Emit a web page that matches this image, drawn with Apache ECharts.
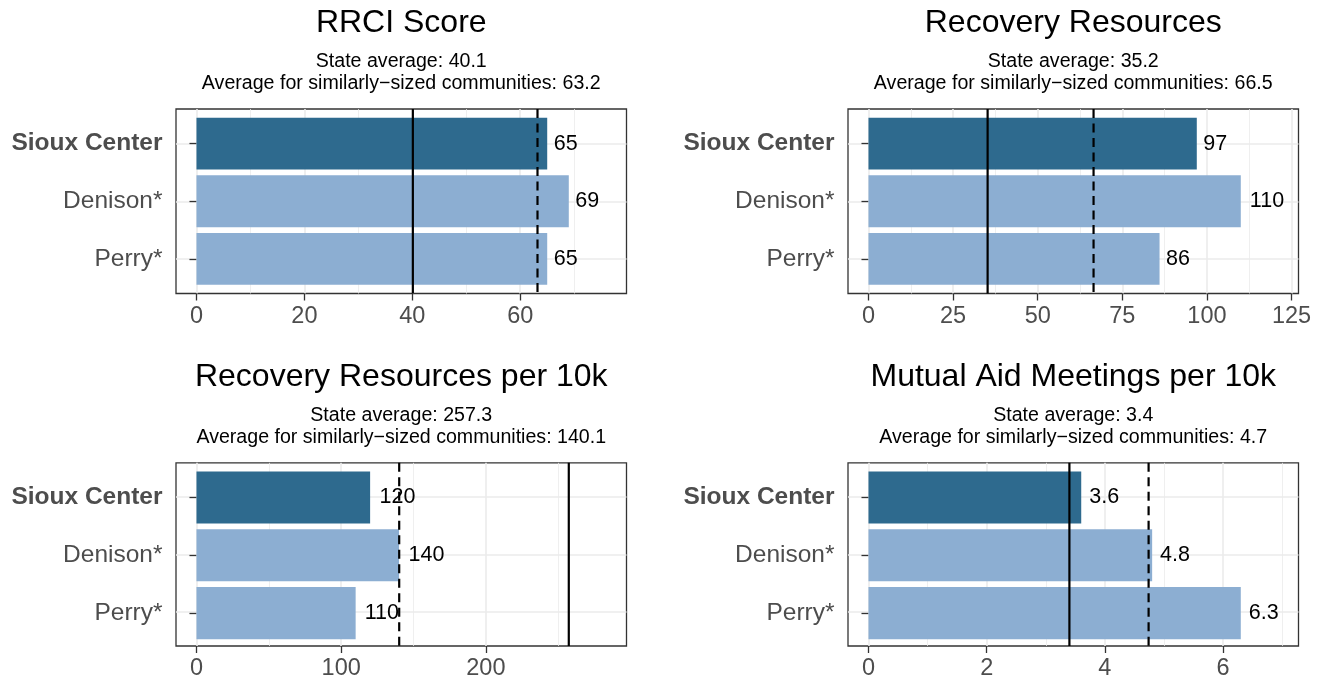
<!DOCTYPE html>
<html>
<head>
<meta charset="utf-8">
<script src="https://cdn.jsdelivr.net/npm/echarts@6/dist/echarts.min.js"></script>
<style>
html,body{margin:0;padding:0;background:#ffffff;}
#chart{width:1322px;height:681px;}
</style>
</head>
<body>
<div id="chart"></div>
<script>
// ---------------- data ----------------
const categories = ['Sioux Center', 'Denison*', 'Perry*'];
const panelTitles = ['RRCI Score', 'Recovery Resources', 'Recovery Resources per 10k', 'Mutual Aid Meetings per 10k'];
const rrciScore = [65, 69, 65];
const recoveryResources = [97, 110, 86];
const recoveryResourcesPer10k = [120, 140, 110];
const mutualAidMeetingsPer10k = [3.6, 4.8, 6.3];
const stateAverage = [40.1, 35.2, 257.3, 3.4];
const similarSizeAverage = [63.2, 66.5, 140.1, 4.74];
const xTicksRrci = [0, 20, 40, 60];
const xTicksResources = [0, 25, 50, 75, 100, 125];
const xTicksPer10k = [0, 100, 200];
const xTicksMeetings = [0, 2, 4, 6];

const panelValues = [rrciScore, recoveryResources, recoveryResourcesPer10k, mutualAidMeetingsPer10k];
const panelTicks = [xTicksRrci, xTicksResources, xTicksPer10k, xTicksMeetings];

// ---------------- style / layout ----------------
const FONT = '"Liberation Sans", Arial, Helvetica, sans-serif';
const DARK = '#2e6a8e';
const LIGHT = '#8caed2';
const GRID_COLOR = '#ebebeb';
const FRAME = '#333333';
const TEXT_GREY = '#4d4d4d';
const panels = [
  { left: 176, top: 109, width: 450.5, height: 184.5 },
  { left: 848, top: 109, width: 450.5, height: 184.5 },
  { left: 176, top: 462.8, width: 450.5, height: 185 },
  { left: 848, top: 462.8, width: 450.5, height: 185 }
];

const measureCtx = document.createElement('canvas').getContext('2d');
measureCtx.font = '21.5px "Liberation Sans", Arial, sans-serif';
function labelDistance(v) {
  const w = measureCtx.measureText(String(v)).width;
  return 0.25 * w + 0.5;
}

const grid = [], xAxis = [], yAxis = [], series = [], graphic = [];
const n = categories.length;

panelValues.forEach((vals, p) => {
  const P = panels[p];
  const ticks = panelTicks[p];
  const M = 1.1 * Math.max(...vals, stateAverage[p], similarSizeAverage[p]);
  const xmin = -0.05 * M, xmax = 1.05 * M;
  const step = ticks[1] - ticks[0];
  const minors = [];
  for (let v = Math.ceil((xmin - step / 2) / step) * step + step / 2; v < xmax; v += step) {
    if (v > xmin) minors.push(v);
  }
  const band = P.height / (n + 0.2);

  // grid A: full panel (frame, grid lines, reference lines)
  grid.push({ left: P.left, top: P.top, width: P.width, height: P.height, show: true,
    borderColor: FRAME, borderWidth: 1.3, backgroundColor: 'transparent' });
  // grid B: bar area (ggplot discrete expansion)
  grid.push({ left: P.left, top: P.top + 0.1 * band, width: P.width, height: n * band });

  // x axes
  xAxis.push({
    gridIndex: 2 * p, type: 'value', min: xmin, max: xmax, position: 'bottom',
    axisLine: { show: false },
    axisTick: { show: true, customValues: ticks, length: 7, lineStyle: { color: FRAME, width: 1.3 } },
    axisLabel: { show: true, customValues: ticks, margin: 11, fontSize: 23.5, color: TEXT_GREY, fontFamily: FONT },
    splitLine: { show: true, lineStyle: { color: GRID_COLOR, width: 1.6 } }
  });
  xAxis.push({
    gridIndex: 2 * p, type: 'value', min: xmin, max: xmax, position: 'top',
    axisLine: { show: false },
    axisTick: { show: false, customValues: minors },
    axisLabel: { show: false, customValues: minors },
    splitLine: { show: true, lineStyle: { color: GRID_COLOR, width: 0.8 } }
  });
  xAxis.push({ gridIndex: 2 * p + 1, type: 'value', min: xmin, max: xmax, show: false });

  // y axes
  yAxis.push({
    gridIndex: 2 * p, type: 'value', inverse: true, min: 0.4, max: n + 0.6,
    axisLine: { show: false },
    axisTick: { show: false, customValues: categories.map((c, i) => i + 1) },
    axisLabel: { show: false, customValues: categories.map((c, i) => i + 1) },
    splitLine: { show: true, lineStyle: { color: GRID_COLOR, width: 1.6 } }
  });
  yAxis.push({
    gridIndex: 2 * p + 1, type: 'category', data: categories, inverse: true,
    axisLine: { show: false },
    axisTick: { show: true, alignWithLabel: true, length: 7, lineStyle: { color: FRAME, width: 1.3 } },
    axisLabel: {
      margin: 13.5, fontSize: 24.5, color: TEXT_GREY, fontFamily: FONT,
      formatter: (v) => v === categories[0] ? '{b|' + v + '}' : v,
      rich: { b: { fontWeight: 'bold', fontSize: 24.5, color: TEXT_GREY, fontFamily: FONT } }
    },
    splitLine: { show: false }
  });

  series.push({
    type: 'bar', xAxisIndex: 3 * p + 2, yAxisIndex: 2 * p + 1, z: 2,
    barCategoryGap: '10%',
    data: vals.map((v, i) => ({ value: v, itemStyle: { color: i === 0 ? DARK : LIGHT },
      label: { distance: labelDistance(v) } })),
    label: { show: true, position: 'right', color: '#000000', fontSize: 21.5, fontFamily: FONT },
    silent: true
  });
  series.push({
    type: 'line', xAxisIndex: 3 * p, yAxisIndex: 2 * p, z: 4, symbol: 'none', silent: true,
    data: [[stateAverage[p], 0.4], [stateAverage[p], n + 0.6]],
    lineStyle: { color: '#000000', width: 2.2, type: 'solid' }
  });
  series.push({
    type: 'line', xAxisIndex: 3 * p, yAxisIndex: 2 * p, z: 4, symbol: 'none', silent: true,
    data: [[similarSizeAverage[p], 0.4], [similarSizeAverage[p], n + 0.6]],
    lineStyle: { color: '#000000', width: 2.2, type: [9, 5.5] }
  });

  const cx = P.left + P.width / 2;
  const lines = [
    { text: panelTitles[p], y: P.top - 86, size: 32 },
    { text: 'State average: ' + stateAverage[p].toFixed(1), y: P.top - 47.3, size: 19.6 },
    { text: 'Average for similarly\u2212sized communities: ' + similarSizeAverage[p].toFixed(1), y: P.top - 25.3, size: 19.6 }
  ];
  lines.forEach(l => {
    graphic.push({
      type: 'text', x: cx, y: l.y, silent: true,
      style: { text: l.text, fill: '#000000', font: l.size + 'px ' + FONT,
        align: 'center', verticalAlign: 'middle', textAlign: 'center', textVerticalAlign: 'middle' }
    });
  });
});

const chart = echarts.init(document.getElementById('chart'), null, { renderer: 'canvas' });
chart.setOption({
  animation: false,
  backgroundColor: '#ffffff',
  textStyle: { fontFamily: FONT },
  grid, xAxis, yAxis, series, graphic
});
</script>
</body>
</html>
